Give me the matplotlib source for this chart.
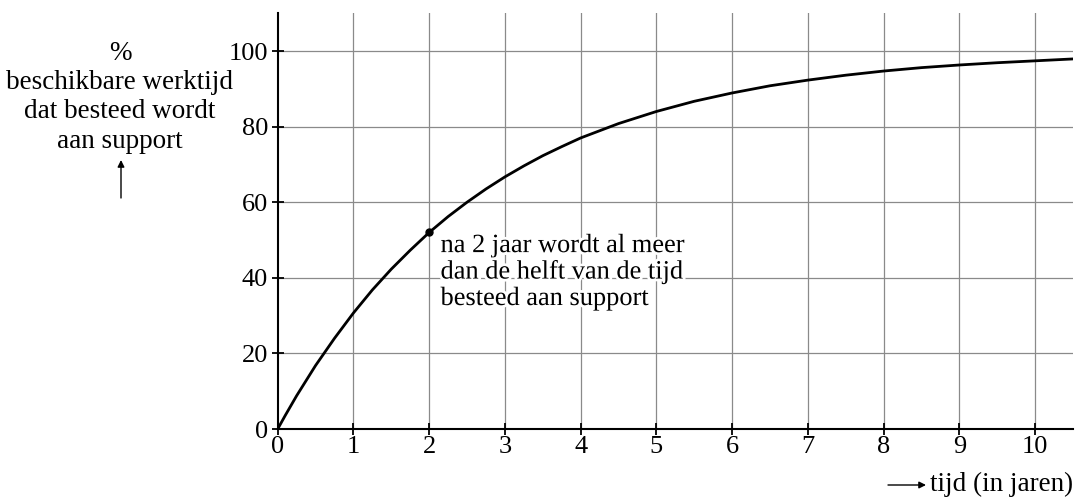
import numpy as np
import matplotlib.pyplot as plt
import matplotlib.patheffects as pe

# values
tijd = [0, 0.1, 0.25, 0.5, 0.75, 1, 1.25, 1.5, 1.75, 2, 2.25, 2.5, 2.75, 3,
        3.25, 3.5, 3.75, 4, 4.5, 5, 5.5, 6, 6.5, 7, 7.5, 8, 8.5, 9, 9.5,
        10, 10.5]
support = [0, 3.6, 8.8, 16.8, 24.0, 30.7, 36.8, 42.3, 47.3, 52.0, 56.2, 60.0,
           63.5, 66.7, 69.6, 72.3, 74.7, 77.0, 80.8, 84.0, 86.7, 88.9, 90.8,
           92.3, 93.6, 94.7, 95.6, 96.3, 96.9, 97.4, 97.9]
punt_x, punt_y = 2, 52
x_ticks = list(range(0, 11))
y_ticks = [0, 20, 40, 60, 80, 100]
notitie = ["na 2 jaar wordt al meer", "dan de helft van de tijd",
           "besteed aan support"]
y_label = ["%", "beschikbare werktijd", "dat besteed wordt", "aan support"]

plt.rcParams["font.family"] = ["Liberation Serif", "DejaVu Serif"]
plt.rcParams["font.size"] = 19

fig = plt.figure(figsize=(10.79, 4.98), dpi=100)
ax = fig.add_axes([277.7 / 1079, 1 - 429 / 498, (1073 - 277.7) / 1079, 415.8 / 498])

ax.set_xlim(0, 10.5)
ax.set_ylim(0, 110)
ax.set_xticks(x_ticks)
ax.set_yticks(y_ticks)
for s in ["top", "right"]:
    ax.spines[s].set_visible(False)
for s in ["left", "bottom"]:
    ax.spines[s].set_linewidth(1.5)
ax.tick_params(direction="inout", length=8, width=1.3, labelsize=19)
ax.tick_params(axis="x", pad=1)
ax.tick_params(axis="y", pad=3)

for x in x_ticks[1:]:
    ax.axvline(x, color="#8a8a8a", lw=0.9, zorder=1)
for y in y_ticks[1:]:
    ax.axhline(y, color="#8a8a8a", lw=0.9, zorder=1)

ax.plot(tijd, support, color="black", lw=2.0, zorder=3, solid_capstyle="round")
ax.plot(punt_x, punt_y, "o", color="black", ms=5, zorder=4)

# annotation, one text per line so the baselines sit where they do in the picture
for i, regel in enumerate(notitie):
    ax.text(2.15, 46.8 - 7.0 * i, regel, ha="left", va="baseline", fontsize=19,
            zorder=5, path_effects=[pe.withStroke(linewidth=4, foreground="white")])

# y label at the left (line by line) with arrow
for i, regel in enumerate(y_label):
    fig.text(120 / 1079, 1 - (60 + 29.2 * i) / 498, regel,
             ha="center", va="baseline", fontsize=19.5)
ax.annotate("", xy=(121 / 1079, 1 - 160 / 498), xytext=(121 / 1079, 1 - 198 / 498),
            xycoords="figure fraction", textcoords="figure fraction",
            arrowprops=dict(arrowstyle="-|>", color="black", lw=1.0,
                            mutation_scale=10, shrinkA=0, shrinkB=0))

# x label at the bottom right with arrow
ax.annotate("", xy=(926 / 1079, 1 - 485 / 498), xytext=(888 / 1079, 1 - 485 / 498),
            xycoords="figure fraction", textcoords="figure fraction",
            arrowprops=dict(arrowstyle="-|>", color="black", lw=1.0,
                            mutation_scale=10, shrinkA=0, shrinkB=0))
fig.text(930 / 1079, 1 - 484 / 498, "tijd (in jaren)", ha="left", va="center", fontsize=19.5)

fig.savefig("out.png", dpi=100)
